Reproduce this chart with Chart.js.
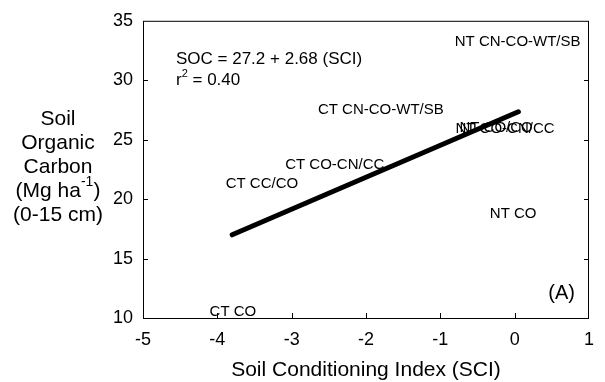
<!DOCTYPE html>
<html>
<head>
<meta charset="utf-8">
<script src="https://cdn.jsdelivr.net/npm/chart.js@4/dist/chart.umd.min.js"></script>
<style>
  html, body { margin: 0; padding: 0; background: #fff; }
  #wrap { width: 605px; height: 382px; }
</style>
</head>
<body>
<div id="wrap"><canvas id="chart" width="605" height="382"></canvas></div>
<script>
const TREATMENTS = ['NT CN-CO-WT/SB', 'CT CN-CO-WT/SB', 'NT CO/CO', 'NT CO-CN/CC', 'CT CO-CN/CC', 'CT CC/CO', 'NT CO', 'CT CO'];
const SCI = [0.04, -1.80, -0.25, -0.13, -2.42, -3.40, -0.02, -3.79];
const SOC = [33.25, 27.5, 26.0, 25.9, 22.9, 21.25, 18.75, 10.5];

const FIT_X = [-3.8, 0.05];
const FIT_Y = [17.0, 27.35];

const X_TICKS = [-5, -4, -3, -2, -1, 0, 1];
const Y_TICKS = [10, 15, 20, 25, 30, 35];

const FONT = '"Liberation Sans", Arial, sans-serif';

// draws "base" then a raised small piece then the rest
function supText(ctx, parts, x, y, size, align) {
  const big = size + 'px ' + FONT;
  const small = Math.round(size * 0.65) + 'px ' + FONT;
  let total = 0;
  parts.forEach((p) => { ctx.font = p.sup ? small : big; total += ctx.measureText(p.t).width; });
  let cx = align === 'center' ? x - total / 2 : x;
  ctx.textAlign = 'left';
  parts.forEach((p) => {
    ctx.font = p.sup ? small : big;
    ctx.fillText(p.t, cx, p.sup ? y - size * 0.4 : y);
    cx += ctx.measureText(p.t).width;
  });
}

const decor = {
  id: 'decor',
  afterDatasetsDraw(chart) {
    const { ctx, chartArea: a, scales: { x, y } } = chart;
    ctx.save();
    ctx.strokeStyle = '#000';
    ctx.lineWidth = 1;
    ctx.strokeRect(a.left + 0.5, a.top + 0.5, a.right - a.left - 1, a.bottom - a.top);
    ctx.beginPath();
    X_TICKS.slice(1, -1).forEach((v) => {
      const px = Math.round(x.getPixelForValue(v)) + 0.5;
      ctx.moveTo(px, a.bottom); ctx.lineTo(px, a.bottom - 5);
    });
    Y_TICKS.slice(1, -1).forEach((v) => {
      const py = Math.round(y.getPixelForValue(v)) + 0.5;
      ctx.moveTo(a.left, py); ctx.lineTo(a.left + 5, py);
      ctx.moveTo(a.right, py); ctx.lineTo(a.right - 5, py);
    });
    ctx.stroke();

    ctx.fillStyle = '#000';
    ctx.textBaseline = 'middle';
    ctx.textAlign = 'center';
    ctx.font = '15px ' + FONT;
    TREATMENTS.forEach((name, i) => {
      ctx.fillText(name, x.getPixelForValue(SCI[i]), y.getPixelForValue(SOC[i]));
    });

    ctx.font = '17px ' + FONT;
    ctx.textAlign = 'left';
    ctx.fillText('SOC = 27.2 + 2.68 (SCI)', a.left + 33, a.top + 39);
    supText(ctx, [{ t: 'r' }, { t: '2', sup: true }, { t: ' = 0.40' }], a.left + 33, a.top + 60, 17, 'left');

    ctx.font = '20px ' + FONT;
    ctx.textAlign = 'right';
    ctx.fillText('(A)', a.right - 14, a.bottom - 25);

    ctx.font = '21px ' + FONT;
    ctx.textAlign = 'center';
    ctx.fillText('Soil Conditioning Index (SCI)', (a.left + a.right) / 2, 370);
    ctx.fillText('Soil', 58, 119);
    ctx.fillText('Organic', 58, 143);
    ctx.fillText('Carbon', 58, 167);
    supText(ctx, [{ t: '(Mg ha' }, { t: '-1', sup: true }, { t: ')' }], 58, 191, 21, 'center');
    ctx.font = '21px ' + FONT;
    ctx.textAlign = 'center';
    ctx.fillText('(0-15 cm)', 58, 215);
    ctx.restore();
  },
};

new Chart(document.getElementById('chart'), {
  type: 'scatter',
  data: {
    datasets: [
      {
        label: 'treatments',
        data: SCI.map((v, i) => ({ x: v, y: SOC[i] })),
        pointRadius: 0,
        showLine: false,
      },
      {
        label: 'fit',
        data: FIT_X.map((v, i) => ({ x: v, y: FIT_Y[i] })),
        showLine: true,
        borderColor: '#000',
        borderWidth: 5,
        borderCapStyle: 'round',
        pointRadius: 0,
      },
    ],
  },
  options: {
    responsive: false,
    animation: false,
    layout: { padding: { left: 0, top: 18, right: 9, bottom: 0 } },
    plugins: { legend: { display: false }, tooltip: { enabled: false } },
    scales: {
      x: {
        min: -5, max: 1,
        afterFit: (s) => { s.height = 64; },
        afterBuildTicks: (s) => { s.ticks = X_TICKS.map((v) => ({ value: v })); },
        grid: { display: false, drawTicks: false },
        border: { display: false },
        ticks: { color: '#000', font: { size: 18, family: FONT }, padding: 11, maxRotation: 0 },
      },
      y: {
        min: 10, max: 35,
        afterFit: (s) => { s.width = 143; },
        afterBuildTicks: (s) => { s.ticks = Y_TICKS.map((v) => ({ value: v })); },
        grid: { display: false, drawTicks: false },
        border: { display: false },
        ticks: { color: '#000', font: { size: 18, family: FONT }, padding: 10 },
      },
    },
  },
  plugins: [decor],
});
</script>
</body>
</html>
